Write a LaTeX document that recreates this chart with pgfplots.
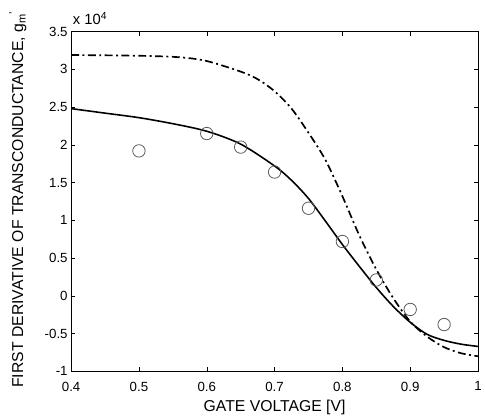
\documentclass[border=0pt]{standalone}
\usepackage{fontspec}
\setmainfont{Liberation Sans}
\usepackage{pgfplots}
\pgfplotsset{compat=1.18}

% values in units of 10^4
\pgfplotstableread{
x y
0.40 2.48
0.45 2.42
0.50 2.36
0.55 2.28
0.60 2.18
0.65 2.01
0.70 1.72
0.725 1.53
0.75 1.29
0.775 0.99
0.80 0.68
0.825 0.39
0.85 0.11
0.875 -0.14
0.90 -0.35
0.925 -0.51
0.95 -0.59
0.975 -0.64
1.00 -0.67
}\solid

\pgfplotstableread{
x y
0.40 3.19
0.50 3.18
0.56 3.16
0.60 3.11
0.65 2.97
0.675 2.87
0.70 2.71
0.725 2.48
0.75 2.16
0.775 1.80
0.80 1.32
0.825 0.80
0.85 0.35
0.875 -0.03
0.90 -0.34
0.925 -0.54
0.95 -0.68
0.975 -0.76
1.00 -0.80
}\dashdot

\pgfplotstableread{
x y
0.50 1.92
0.60 2.15
0.65 1.97
0.70 1.64
0.75 1.16
0.80 0.72
0.85 0.21
0.90 -0.18
0.95 -0.38
}\meas

\begin{document}
\begin{tikzpicture}
\begin{axis}[
  scale only axis,
  width=412bp, height=344bp,
  xmin=0.4, xmax=1, ymin=-1, ymax=3.5,
  clip=false,
  xtick={0.4,0.5,0.6,0.7,0.8,0.9,1},
  xticklabels={0.4,0.5,0.6,0.7,0.8,0.9,1},
  ytick={-1,-0.5,0,0.5,1,1.5,2,2.5,3,3.5},
  yticklabels={-1,-0.5,0,0.5,1,1.5,2,2.5,3,3.5},
  tick align=inside,
  major tick length=4bp,
  tick style={black, line width=0.5bp},
  axis line style={line width=0.6bp},
  ticklabel style={font=\fontsize{13.5}{15}\selectfont},
  xticklabel style={yshift=-7bp},
  xlabel={GATE VOLTAGE [V]},
  ylabel={FIRST DERIVATIVE OF TRANSCONDUCTANCE, g\textsubscript{m}\textsuperscript{'}},
  label style={font=\fontsize{16}{18}\selectfont},
  xlabel style={at={(axis description cs:0.5,-0.105)}, anchor=center},
  ylabel style={at={(axis description cs:-0.131,0.506)}, anchor=center},
]
\addplot[black, line width=1.6bp, smooth] table[x=x, y=y] {\solid};
\addplot[black, line width=1.7bp, smooth, dash pattern=on 8bp off 3.5bp on 2bp off 3.5bp] table[x=x, y=y] {\dashdot};
\addplot[only marks, mark=o, mark size=6.3bp, mark options={draw=black!65, line width=0.8bp}] table[x=x, y=y] {\meas};
\node[anchor=south west, inner sep=0pt, font=\fontsize{15}{17}\selectfont] at (axis description cs:0.004,1.02) {x 10\textsuperscript{4}};
\end{axis}
\path[use as bounding box] ([xshift=-72bp,yshift=-46bp]current axis.south west) rectangle ([xshift=1bp,yshift=32bp]current axis.north east);
\end{tikzpicture}
\end{document}
